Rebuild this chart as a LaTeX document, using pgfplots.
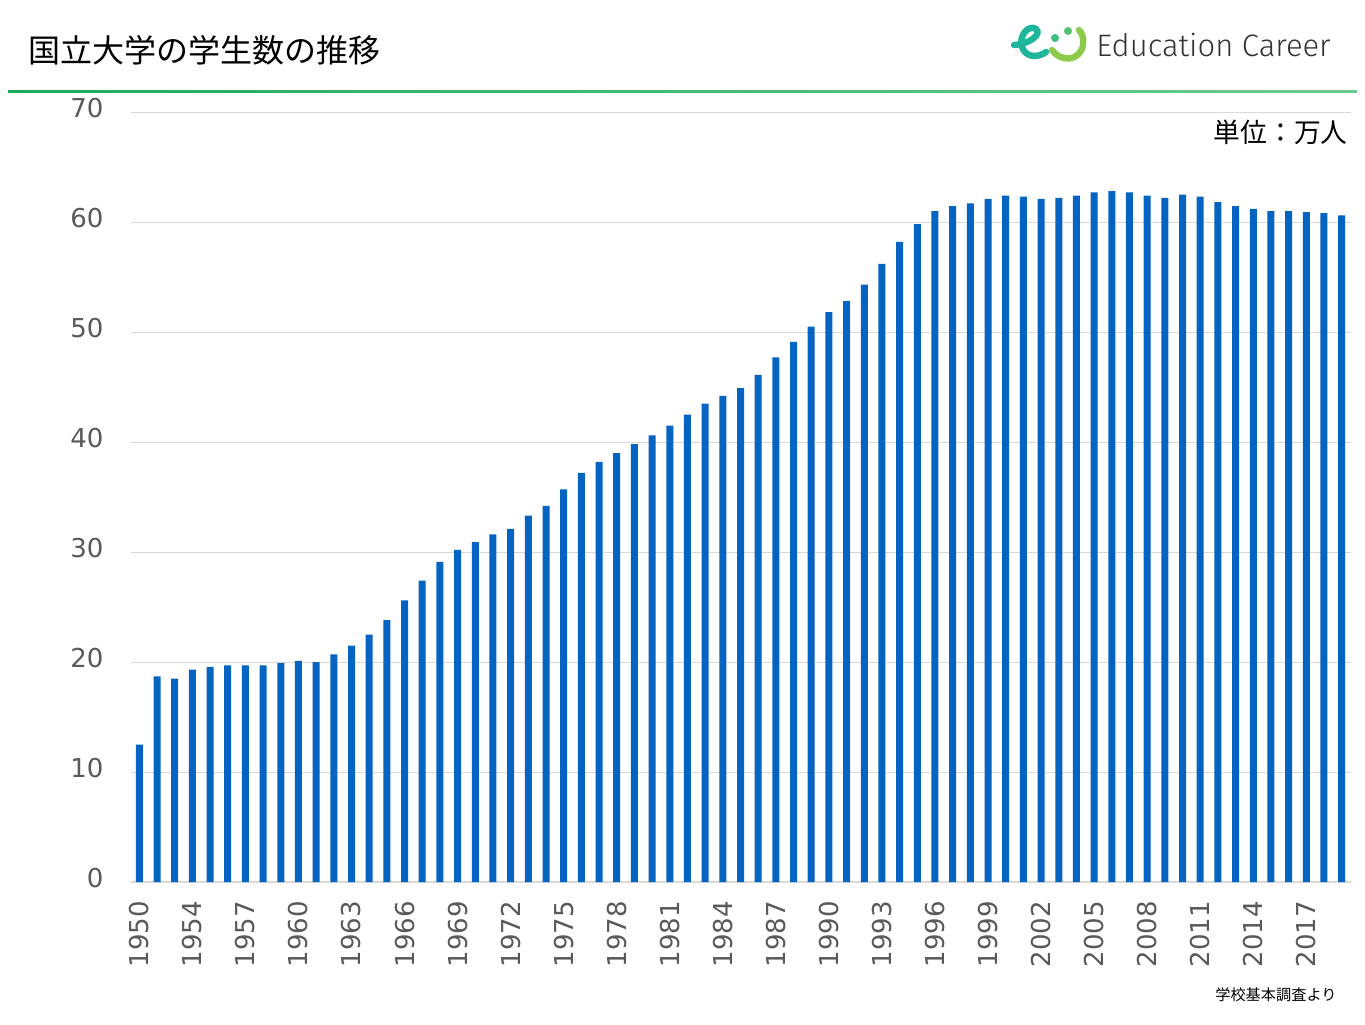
\documentclass[border=0pt]{standalone}
\usepackage{pgfplots}
\pgfplotsset{compat=1.18}
\usepackage{fontspec}
\setmainfont{Open Sans}
\newfontfamily\tickfont{DejaVu Sans}
\newfontfamily\cjk{Noto Sans CJK JP}
\newfontfamily\logofont{Fira Sans Light}
\definecolor{barblue}{HTML}{0563C1}
\definecolor{ticktext}{HTML}{595959}
\definecolor{gridgray}{HTML}{D9D9D9}
\definecolor{lineA}{HTML}{1DAA5A}
\definecolor{lineB}{HTML}{6CCB8F}
\definecolor{logoA}{HTML}{1DB69A}
\definecolor{logoB}{HTML}{8CCB4A}
\definecolor{logotext}{HTML}{333333}
\begin{document}
\begin{tikzpicture}
\path[use as bounding box] (0,0) rectangle (682.5pt,512pt);
\begin{scope}[x=0.5pt,y=-0.5pt,shift={(0pt,512pt)}]
% title
\node[anchor=west,inner sep=0pt] at (28,50) {\cjk\fontsize{16}{18}\selectfont 国立大学の学生数の推移};
% green line
\shade[left color=lineA,right color=lineB] (8,91) rectangle (1357,92.6);
% logo
\draw[line width=3.2pt,line cap=round,logoA] (1014,45) .. controls (1030,44) and (1042,34) .. (1036,29) .. controls (1029,24) and (1018,36) .. (1022,47) .. controls (1026,58) and (1038,58) .. (1046,52);
\fill[logoA!70!logoB] (1055,38) circle (4);
\fill[logoA!50!logoB] (1068,31) circle (4);
\draw[line width=3.2pt,line cap=round,logoB] (1052,50) .. controls (1060,62) and (1080,62) .. (1083,45) .. controls (1084,38) and (1082,33) .. (1079,30);
\node[anchor=west,inner sep=0pt,text=logotext] at (1096,45) {\logofont\fontsize{15.5}{18}\selectfont Education Career};
% unit
\node[anchor=east,inner sep=0pt] at (1348,132) {\cjk\fontsize{13.4}{15}\selectfont 単位：万人};
% source
\node[anchor=east,inner sep=0pt] at (1337,995) {\cjk\fontsize{7.6}{9}\selectfont 学校基本調査より};
\end{scope}
\begin{axis}[
  at={(65.25pt,71pt)}, anchor=south west,
  scale only axis, width=610pt, height=385pt,
  xmin=-0.5, xmax=68.5, ymin=0, ymax=70,
  ytick={0,10,20,30,40,50,60,70},
  xtick={0,3,...,66},
  xticklabels={1950,1954,1957,1960,1963,1966,1969,1972,1975,1978,1981,1984,1987,1990,1993,1996,1999,2002,2005,2008,2011,2014,2017},
  axis x line*=bottom, axis y line*=left,
  x axis line style={gridgray,line width=0.6pt,-},
  y axis line style={draw=none},
  ymajorgrids, grid style={gridgray,line width=0.5pt},
  major tick length=0pt,
  tick label style={text=ticktext,font=\tickfont\fontsize{13}{15}\selectfont},
  /pgf/number format/assume math mode=true,
  yticklabel style={anchor=east,xshift=-10pt,yshift=2pt},
  xticklabel style={rotate=90,anchor=east},
  xticklabel shift=6pt,
  ybar, bar width=3.5pt,
  clip=false,
]
\addplot[fill=barblue,draw=none] coordinates {
(0,12.5) (1,18.7) (2,18.5) (3,19.3) (4,19.55) (5,19.7) (6,19.7) (7,19.7) (8,19.9) (9,20.1)
(10,20.0) (11,20.7) (12,21.5) (13,22.5) (14,23.8) (15,25.6) (16,27.4) (17,29.1) (18,30.2) (19,30.9)
(20,31.6) (21,32.1) (22,33.3) (23,34.2) (24,35.7) (25,37.2) (26,38.2) (27,39.0) (28,39.8) (29,40.6)
(30,41.5) (31,42.5) (32,43.5) (33,44.2) (34,44.9) (35,46.1) (36,47.7) (37,49.1) (38,50.5) (39,51.8)
(40,52.8) (41,54.3) (42,56.2) (43,58.2) (44,59.8) (45,61.0) (46,61.45) (47,61.7) (48,62.1) (49,62.4)
(50,62.3) (51,62.1) (52,62.2) (53,62.4) (54,62.7) (55,62.8) (56,62.7) (57,62.4) (58,62.2) (59,62.5)
(60,62.3) (61,61.8) (62,61.45) (63,61.2) (64,61.0) (65,61.0) (66,60.9) (67,60.8) (68,60.6)
};
\end{axis}
\end{tikzpicture}
\end{document}
